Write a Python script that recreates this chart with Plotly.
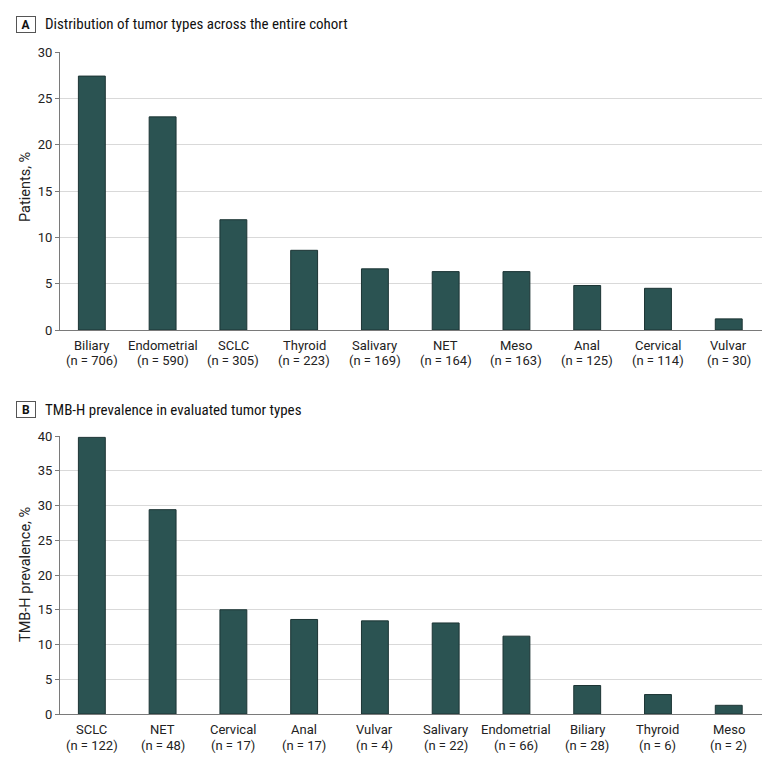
import plotly.graph_objects as go
from plotly.subplots import make_subplots

# Panel A data
a_types = ["Biliary", "Endometrial", "SCLC", "Thyroid", "Salivary", "NET", "Meso", "Anal", "Cervical", "Vulvar"]
a_n = [706, 590, 305, 223, 169, 164, 163, 125, 114, 30]
a_pct = [27.4, 23.0, 11.9, 8.6, 6.6, 6.3, 6.3, 4.8, 4.5, 1.2]

# Panel B data
b_types = ["SCLC", "NET", "Cervical", "Anal", "Vulvar", "Salivary", "Endometrial", "Biliary", "Thyroid", "Meso"]
b_n = [122, 48, 17, 17, 4, 22, 66, 28, 6, 2]
b_pct = [39.8, 29.4, 15.0, 13.6, 13.4, 13.1, 11.2, 4.1, 2.8, 1.25]

NARROW = "Liberation Sans Narrow, Roboto Condensed, Roboto, sans-serif"
FONT = "Roboto, Liberation Sans, sans-serif"
FILL = "#2b5352"
EDGE = "#1c3434"
TXT = "#222222"

fig = make_subplots(rows=2, cols=1, vertical_spacing=0.0)
fig.add_trace(go.Bar(x=a_types, y=a_pct, width=0.38, marker=dict(color=FILL, line=dict(color=EDGE, width=1)),
                     customdata=a_n, hovertemplate="%{x} (n=%{customdata}): %{y}%<extra></extra>"), row=1, col=1)
fig.add_trace(go.Bar(x=b_types, y=b_pct, width=0.38, marker=dict(color=FILL, line=dict(color=EDGE, width=1)),
                     customdata=b_n, hovertemplate="%{x} (n=%{customdata}): %{y}%<extra></extra>"), row=2, col=1)

# page has an 8px body margin; work in page pixels and convert
OFF = 8
W, H = 780 - OFF, 762 - OFF
ml, mr, mt, mb = 60 - OFF, 18, 52 - OFF, 48
pw = W - ml - mr
ph = H - mt - mb

def py(pix):  # pix = page pixel
    return (H - mb - (pix - OFF)) / ph

def px(pix):
    return ((pix - OFF) - ml) / pw

xcommon = dict(showgrid=False, showline=True, linecolor="#7a7a7a", linewidth=1, ticks="",
               showticklabels=False, range=[-0.45, 9.47], fixedrange=True)
ycommon = dict(showgrid=True, gridcolor="#d9d9d9", gridwidth=1, showline=True, linecolor="#7a7a7a",
               linewidth=1, ticks="outside", ticklen=4, tickcolor="#7a7a7a",
               tickfont=dict(family=FONT, size=13, color=TXT), zeroline=False, fixedrange=True)

fig.update_xaxes(**xcommon)
fig.update_yaxes(**ycommon)
fig.update_layout(
    xaxis=dict(domain=[0, 1]),
    xaxis2=dict(domain=[0, 1]),
    yaxis=dict(domain=[py(330), py(52)], range=[0, 30], dtick=5),
    yaxis2=dict(domain=[py(714), py(436)], range=[0, 40], dtick=5),
)

annots = []
# category labels (two lines) under each axis
for xref, yref, types, ns in [("x", "y domain", a_types, a_n), ("x2", "y2 domain", b_types, b_n)]:
    for t, n in zip(types, ns):
        annots.append(dict(text=t, x=t, y=0, xref=xref, yref=yref, yshift=-15.5,
                           xanchor="center", yanchor="middle", showarrow=False,
                           font=dict(family=FONT, size=13, color=TXT)))
        annots.append(dict(text=f"(n = {n})", x=t, y=0, xref=xref, yref=yref, yshift=-31,
                           xanchor="center", yanchor="middle", showarrow=False,
                           font=dict(family=FONT, size=13, color=TXT)))

# axis titles
for text, ycen in [("Patients, %", 187), ("TMB-H prevalence, %", 575)]:
    annots.append(dict(text=text, x=px(25), y=py(ycen), xref="paper", yref="paper", textangle=-90,
                       xanchor="center", yanchor="middle", showarrow=False,
                       font=dict(family=FONT, size=14.5, color=TXT)))

# panel labels and titles
for letter, title, ypix in [("A", "Distribution of tumor types across the entire cohort", 24.5),
                             ("B", "TMB-H prevalence in evaluated tumor types", 409.5)]:
    annots.append(dict(text=f"<b>{letter}</b>", x=px(16), y=py(ypix), xref="paper", yref="paper",
                       xanchor="left", yanchor="middle", showarrow=False, width=14, height=11,
                       font=dict(family=FONT, size=12, color="#111111"),
                       bordercolor="#555555", borderwidth=1, borderpad=2))
    annots.append(dict(text=title, x=px(43), y=py(ypix), xref="paper", yref="paper",
                       xanchor="left", yanchor="middle", showarrow=False,
                       font=dict(family=NARROW, size=15, color="#111111")))

fig.update_layout(
    width=W, height=H,
    margin=dict(l=ml, r=mr, t=mt, b=mb),
    plot_bgcolor="white", paper_bgcolor="white",
    showlegend=False, bargap=0.62,
    annotations=annots,
    font=dict(family=FONT, color=TXT),
)

fig.write_html("out.html")
